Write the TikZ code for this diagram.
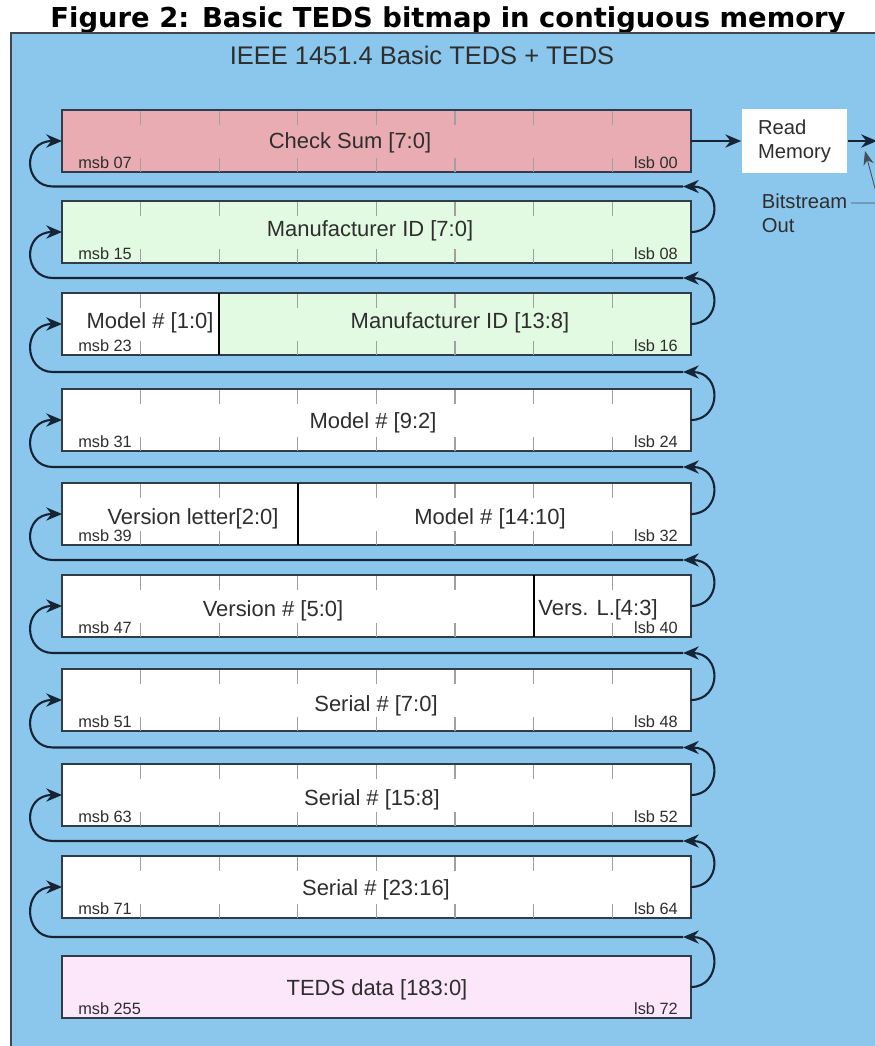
\documentclass[tikz,border=0pt]{standalone}
\usepackage{fontspec}
\setmainfont{Liberation Sans}
\newfontfamily\titlefont{DejaVu Sans}
\usetikzlibrary{arrows.meta}
\definecolor{panel}{RGB}{139,199,236}
\definecolor{panelline}{RGB}{62,72,84}
\definecolor{boxline}{RGB}{48,60,74}
\definecolor{flow}{RGB}{22,36,54}
\definecolor{csum}{RGB}{232,172,178}
\definecolor{mfr}{RGB}{226,250,226}
\definecolor{tedsdata}{RGB}{252,230,250}
\definecolor{tickgray}{RGB}{160,160,160}

\begin{document}
\begin{tikzpicture}[x=0.02cm, y=-0.02cm,
    rowbox/.style={draw=boxline, line width=1.1pt, minimum width=12.58cm,
        minimum height=1.24cm, inner sep=0, outer sep=0},
    tickmark/.style={tickgray, line width=0.6pt},
    divider/.style={black, line width=1.1pt},
    field/.style={font=\fontsize{12.5}{14}\selectfont, text=black!82, anchor=base},
    bitno/.style={font=\fontsize{9.3}{11}\selectfont, text=black!82},
    flowline/.style={flow, line width=1.2pt},
    flowarrow/.style={-{Stealth[length=9pt,width=7.5pt]}},
    memnode/.style={fill=white, minimum width=2.12cm, minimum height=1.28cm,
        align=left, font=\fontsize{11.5}{13.6}\selectfont, text=black!82},
    leader/.style={flow!80, line width=0.5pt, -{Stealth[length=8pt,width=6pt]}},
]

\useasboundingbox (0,0) rectangle (875,1046);
\clip (0,0) rectangle (875,1046);

%% --- title and panel ---
\node[font=\titlefont\bfseries\fontsize{15.6}{18}\selectfont, anchor=base]
    (title) at (448,27) {Figure 2: Basic TEDS bitmap in contiguous memory};
\fill[panel] (11,33) rectangle (880,1050);
\draw[panelline, line width=1pt] (880,33) -- (11,33) -- (11,1050);
\node[font=\fontsize{14.5}{17}\selectfont, text=black!82, anchor=base]
    (head) at (422,64) {IEEE 1451.4 Basic TEDS + TEDS};

%% --- memory rows ---
\foreach \i/\c/\col in {1/141/csum, 2/232/mfr, 3/324/mfr, 4/420/white,
    5/514/white, 6/606/white, 7/700/white, 8/795/white, 9/887/white,
    10/987/tedsdata}
    \node[rowbox, fill=\col] (r\i) at (376.5,\c) {};

% left part of row 3 is not manufacturer data
\fill[white] (63,294) rectangle (219,354);

%% --- bit ticks ---
\foreach \c in {141,232,324,420,514,606,700,795,887}
    \foreach \t in {1,...,7} {
        \draw[tickmark] (62+78.6*\t,\c-30.5) -- ++(0,14);
        \draw[tickmark] (62+78.6*\t,\c+30.5) -- ++(0,-14);
    }

%% --- field borders ---
\draw[divider] (219,293) -- (219,355);
\draw[divider] (298,483) -- (298,545);
\draw[divider] (534,575) -- (534,637);

%% --- field names ---
\foreach \x/\y/\txt [count=\n] in {
    350/148/{Check Sum [7:0]},
    370/236/{Manufacturer ID [7:0]},
    150/328/{Model \# [1:0]},
    460/328/{Manufacturer ID [13:8]},
    373/428/{Model \# [9:2]},
    193/524/{Version letter[2:0]},
    490/524/{Model \# [14:10]},
    273/616/{Version \# [5:0]},
    598/615/{Vers. L.[4:3]},
    376/711/{Serial \# [7:0]},
    372/805/{Serial \# [15:8]},
    376/895/{Serial \# [23:16]},
    377/995/{TEDS data [183:0]}
}
    \node[field] (lab\n) at (\x,\y) {\txt};

%% --- msb / lsb ---
\foreach \i/\m/\l in {1/07/00, 2/15/08, 3/23/16, 4/31/24, 5/39/32,
    6/47/40, 7/51/48, 8/63/52, 9/71/64, 10/255/72} {
    \node[bitno, anchor=base west] (msb\i) at ([shift={(10,-4)}]r\i.south west) {msb \m};
    \node[bitno, anchor=base east] (lsb\i) at ([shift={(-7,-4)}]r\i.south east) {lsb \l};
}

%% --- bitstream loops, row k+1 feeds row k ---
\foreach \k/\n/\g in {1/2/186.5, 2/3/278, 3/4/372, 4/5/467, 5/6/560,
    6/7/653, 7/8/747.5, 8/9/841, 9/10/937} {
    \coordinate (gr\k) at (683,\g);
    \coordinate (gl\k) at (53,\g);
    \draw[flowline, flowarrow] (r\n.east) .. controls +(31,0) and +(39,0) .. (gr\k);
    \draw[flowline, flowarrow] (gr\k) -- (gl\k)
        .. controls +(-30,0) and +(-40,0) .. (r\k.west);
}

%% --- read memory ---
\node[memnode] (mem) at (794.5,141) {Read\\Memory};
\draw[flowline, flowarrow] (r1.east) -- (mem.west);
\coordinate (out) at (877,141);
\draw[flowline, flowarrow] (mem.east) -- (out);

\node[memnode, fill=none, anchor=north west, minimum width=0, minimum height=0,
    inner sep=2pt] (bso) at (758,190) {Bitstream\\Out};
\coordinate (bend) at (879,203);
\coordinate (tap) at (865,151);
\draw[leader] (bso.east |- bend) -- (bend) -- (tap);

\end{tikzpicture}
\end{document}
